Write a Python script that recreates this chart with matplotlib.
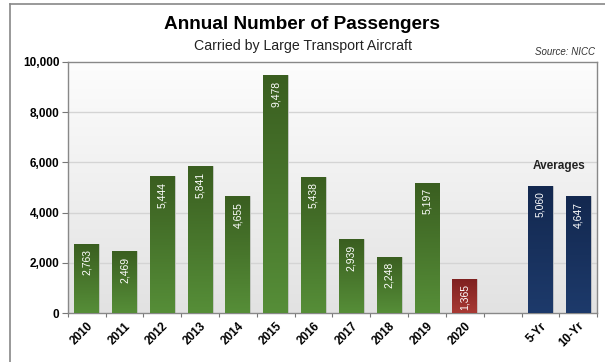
import matplotlib.pyplot as plt
import numpy as np
from matplotlib.lines import Line2D
from matplotlib.colors import LinearSegmentedColormap

plt.rcParams['font.family'] = ['Liberation Sans', 'DejaVu Sans']

# data
years = ["2010", "2011", "2012", "2013", "2014", "2015", "2016", "2017", "2018", "2019", "2020"]
passengers = [2763, 2469, 5444, 5841, 4655, 9478, 5438, 2939, 2248, 5197, 1365]
avg_labels = ["5-Yr", "10-Yr"]
avg_values = [5060, 4647]

labels = years + [""] + avg_labels
values = passengers + [np.nan] + avg_values
x = np.arange(len(labels))

# gradients: (top colour, bottom colour)
green = ("#3a5e20", "#568e38")
red = ("#7e2020", "#a83a34")
navy = ("#13284f", "#1d3a6b")
colors = [green] * 10 + [red] + [None] + [navy] * 2

fig = plt.figure(figsize=(6.05, 3.62), dpi=100)
ax = fig.add_axes([0.112, 0.135, 0.875, 0.694])

# plot background gradient
bg = np.linspace(1, 0, 256).reshape(-1, 1)
ax.imshow(bg, cmap=LinearSegmentedColormap.from_list("bg", ["#e2e2e2", "#fdfdfd"]),
          extent=[-0.5, len(labels) - 0.5, 0, 10000], aspect="auto", zorder=0)

for val in [2000, 4000, 6000, 8000]:
    ax.axhline(val, color="#d4d4d4", lw=1.0, zorder=1)

w = 0.66
for xi, v, c in zip(x, values, colors):
    if c is None or np.isnan(v):
        continue
    bar = ax.bar(xi, v, width=w, color=c[1], edgecolor="#c9c9c9", lw=0.6, zorder=2)[0]
    cmap = LinearSegmentedColormap.from_list("g", [c[1], c[0]])
    grad = np.linspace(0, 1, 256).reshape(-1, 1)
    im = ax.imshow(grad, cmap=cmap, extent=[xi - w / 2, xi + w / 2, 0, v],
                   aspect="auto", origin="lower", zorder=3)
    im.set_clip_path(bar)
    ax.annotate(f"{v:,.0f}", (xi, v), xytext=(0, -4), textcoords="offset points",
                rotation=90, ha="center", va="top", color="white", fontsize=7.5, zorder=4)

ax.set_xlim(-0.5, len(labels) - 0.5)
ax.set_ylim(0, 10000)
ax.set_yticks([0, 2000, 4000, 6000, 8000, 10000])
ax.set_yticklabels([f"{t:,}" for t in [0, 2000, 4000, 6000, 8000, 10000]], fontsize=8.5, fontweight="bold")
ax.set_xticks(np.arange(len(labels) + 1) - 0.5, minor=False)
ax.set_xticklabels([])
ax.set_xticks(x, minor=True)
ax.set_xticklabels(labels, minor=True, rotation=45, fontsize=8.5, fontweight="bold",
                   ha="right", rotation_mode="anchor")
ax.tick_params(axis="x", which="minor", length=0, pad=5)
ax.tick_params(axis="x", which="major", length=3, color="#777777")
ax.tick_params(axis="y", length=4, color="#777777", pad=2)
for s in ax.spines.values():
    s.set_color("#888888")
    s.set_linewidth(1.0)

ax.text(12.5, 5060 + 550, "Averages", ha="center", va="bottom", fontsize=8.5, fontweight="bold", color="#222222")

fig.text(0.5, 0.921, "Annual Number of Passengers", ha="center", fontsize=13.7, fontweight="bold")
fig.text(0.5, 0.862, "Carried by Large Transport Aircraft", ha="center", fontsize=10.2, color="#222222")
fig.text(0.983, 0.848, "Source: NICC", ha="right", fontsize=7, style="italic", color="#333333")

# outer frame
fig.add_artist(Line2D([0.017, 1.0], [0.989, 0.989], color="#888888", lw=1.2))
fig.add_artist(Line2D([0.017, 0.017], [0.0, 0.989], color="#888888", lw=1.2))

fig.savefig("out.png", dpi=100)
